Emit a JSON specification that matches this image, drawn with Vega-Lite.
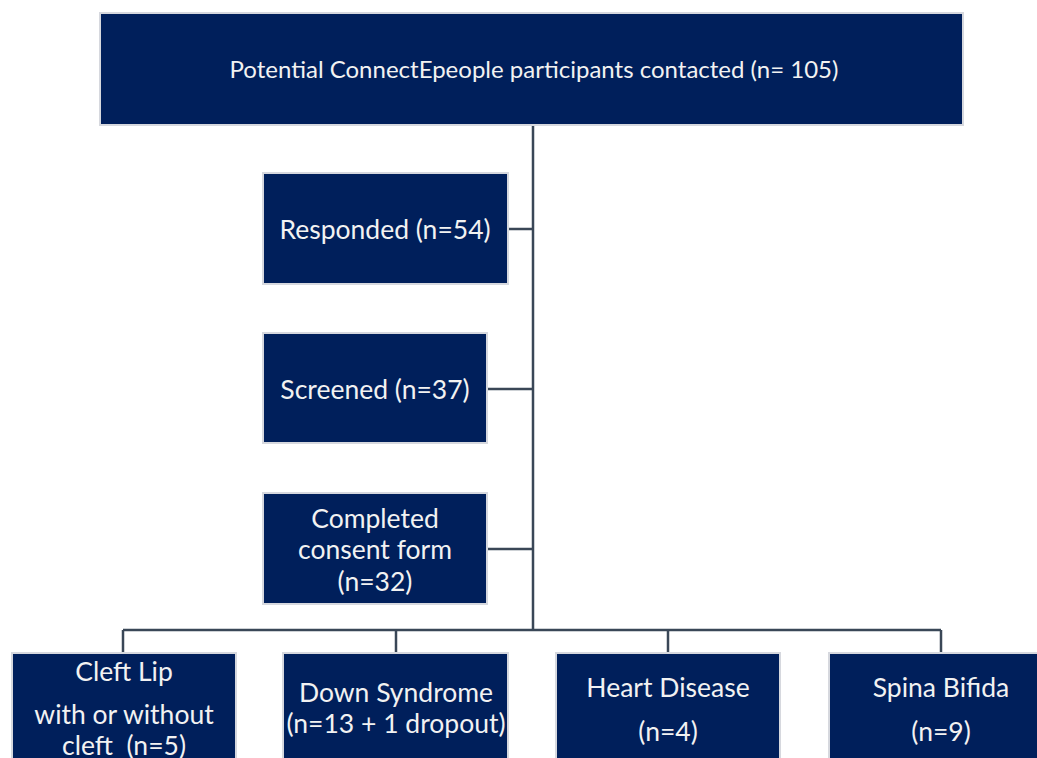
{
  "$schema": "https://vega.github.io/schema/vega-lite/v6.json",
  "width": 1037,
  "height": 758,
  "padding": 0,
  "autosize": {"type": "none"},
  "background": "white",
  "config": {"view": {"stroke": null}},
  "datasets": {
    "boxes": [
      {"name": "Contacted", "x0": 100, "x1": 963, "y0": 13, "y1": 125},
      {"name": "Responded", "x0": 263, "x1": 508, "y0": 173, "y1": 284},
      {"name": "Screened", "x0": 263, "x1": 487, "y0": 333, "y1": 443},
      {"name": "Consent", "x0": 263, "x1": 487, "y0": 493, "y1": 604},
      {"name": "Cleft", "x0": 12, "x1": 236, "y0": 653, "y1": 780},
      {"name": "Down", "x0": 283, "x1": 508, "y0": 653, "y1": 780},
      {"name": "Heart", "x0": 556, "x1": 780, "y0": 653, "y1": 780},
      {"name": "Spina", "x0": 829, "x1": 1053, "y0": 653, "y1": 780}
    ],
    "links": [
      {"x0": 533, "x1": 533, "y0": 125, "y1": 630},
      {"x0": 508, "x1": 533, "y0": 229, "y1": 229},
      {"x0": 487, "x1": 533, "y0": 389, "y1": 389},
      {"x0": 487, "x1": 533, "y0": 549, "y1": 549},
      {"x0": 123, "x1": 941, "y0": 630, "y1": 630},
      {"x0": 123, "x1": 123, "y0": 630, "y1": 653},
      {"x0": 396, "x1": 396, "y0": 630, "y1": 653},
      {"x0": 668, "x1": 668, "y0": 630, "y1": 653},
      {"x0": 941, "x1": 941, "y0": 630, "y1": 653}
    ],
    "title": [
      {"x": 534, "y": 70, "text": "Potential ConnectEpeople participants contacted (n= 105)"}
    ],
    "labels": [
      {"x": 385, "y": 229, "text": "Responded (n=54)"},
      {"x": 375, "y": 389, "text": "Screened (n=37)"},
      {"x": 375, "y": 518, "text": "Completed"},
      {"x": 375, "y": 549, "text": "consent form"},
      {"x": 375, "y": 581, "text": "(n=32)"},
      {"x": 124, "y": 671, "text": "Cleft Lip"},
      {"x": 124, "y": 714, "text": "with or without"},
      {"x": 124, "y": 745, "text": "cleft\u00a0 (n=5)"},
      {"x": 396, "y": 692, "text": "Down Syndrome"},
      {"x": 396, "y": 723, "text": "(n=13 + 1 dropout)"},
      {"x": 668, "y": 687, "text": "Heart Disease"},
      {"x": 668, "y": 731, "text": "(n=4)"},
      {"x": 941, "y": 687, "text": "Spina Bifida"},
      {"x": 941, "y": 731, "text": "(n=9)"}
    ]
  },
  "layer": [
    {
      "data": {"name": "links"},
      "mark": {"type": "rule", "color": "#3a4757", "strokeWidth": 2.5, "clip": true},
      "encoding": {
        "x": {"field": "x0", "type": "quantitative", "scale": {"domain": [0, 1037], "nice": false, "zero": false}, "axis": null},
        "x2": {"field": "x1"},
        "y": {"field": "y0", "type": "quantitative", "scale": {"domain": [758, 0], "nice": false, "zero": false}, "axis": null},
        "y2": {"field": "y1"}
      }
    },
    {
      "data": {"name": "boxes"},
      "mark": {"type": "rect", "fill": "#001f5b", "stroke": "#d6d8de", "strokeWidth": 2, "clip": true},
      "encoding": {
        "x": {"field": "x0", "type": "quantitative", "scale": {"domain": [0, 1037], "nice": false, "zero": false}, "axis": null},
        "x2": {"field": "x1"},
        "y": {"field": "y0", "type": "quantitative", "scale": {"domain": [758, 0], "nice": false, "zero": false}, "axis": null},
        "y2": {"field": "y1"}
      }
    },
    {
      "data": {"name": "title"},
      "mark": {"type": "text", "color": "#f2f2f2", "font": "Lato", "fontSize": 24, "align": "center", "baseline": "middle", "dy": 1},
      "encoding": {
        "x": {"field": "x", "type": "quantitative", "scale": {"domain": [0, 1037], "nice": false, "zero": false}, "axis": null},
        "y": {"field": "y", "type": "quantitative", "scale": {"domain": [758, 0], "nice": false, "zero": false}, "axis": null},
        "text": {"field": "text"}
      }
    },
    {
      "data": {"name": "labels"},
      "mark": {"type": "text", "color": "#f2f2f2", "font": "Lato", "fontSize": 26.5, "align": "center", "baseline": "middle", "dy": 2},
      "encoding": {
        "x": {"field": "x", "type": "quantitative", "scale": {"domain": [0, 1037], "nice": false, "zero": false}, "axis": null},
        "y": {"field": "y", "type": "quantitative", "scale": {"domain": [758, 0], "nice": false, "zero": false}, "axis": null},
        "text": {"field": "text"}
      }
    }
  ]
}
